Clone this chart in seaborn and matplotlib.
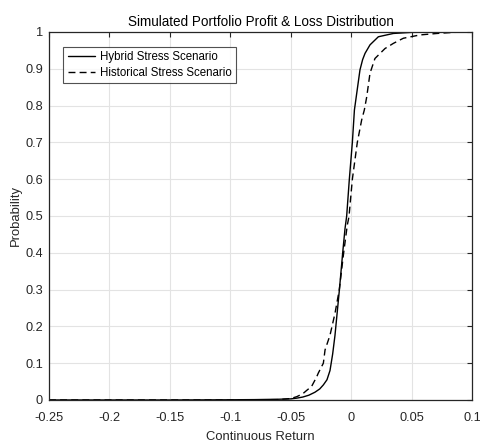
import numpy as np
import pandas as pd
import matplotlib
matplotlib.use("Agg")
import matplotlib.pyplot as plt
import seaborn as sns

hybrid_x = [-0.25, -0.15, -0.12, -0.10, -0.08, -0.06, -0.05, -0.045, -0.04, -0.035,
            -0.03, -0.026, -0.023, -0.02, -0.0175, -0.0153, -0.0134, -0.0098, -0.007,
            -0.0051, -0.0037, -0.0015, 0.001, 0.0027, 0.0046, 0.0073, 0.0095, 0.0115,
            0.0156, 0.0225, 0.0349, 0.05, 0.1]
hybrid_p = [0.0, 0.0, 0.0003, 0.0006, 0.001, 0.002, 0.003, 0.005, 0.008, 0.013,
            0.021, 0.03, 0.041, 0.055, 0.08, 0.125, 0.175, 0.297, 0.40,
            0.465, 0.50, 0.60, 0.70, 0.788, 0.833, 0.897, 0.925, 0.942,
            0.965, 0.987, 0.996, 0.999, 1.0]

hist_x = [-0.25, -0.10, -0.06, -0.05, -0.045, -0.04, -0.0368, -0.0327, -0.0285, -0.0272,
          -0.023, -0.0216, -0.0175, -0.0134, -0.0098, -0.0062, -0.0032, -0.0018, 0.001,
          0.0051, 0.0087, 0.0109, 0.0129, 0.0156, 0.0197, 0.028, 0.0349, 0.0432, 0.057,
          0.071, 0.085, 0.1]
hist_p = [0.0, 0.0, 0.001, 0.004, 0.009, 0.017, 0.026, 0.037, 0.063, 0.073,
          0.10, 0.136, 0.176, 0.235, 0.30, 0.40, 0.475, 0.498, 0.60,
          0.70, 0.761, 0.788, 0.824, 0.888, 0.928, 0.955, 0.969, 0.983, 0.992,
          0.996, 0.999, 1.0]

series_names = ["Hybrid Stress Scenario", "Historical Stress Scenario"]
x_ticks = [-0.25, -0.2, -0.15, -0.1, -0.05, 0, 0.05, 0.1]
x_tick_labels = ["-0.25", "-0.2", "-0.15", "-0.1", "-0.05", "0", "0.05", "0.1"]
y_ticks = [0, 0.1, 0.2, 0.3, 0.4, 0.5, 0.6, 0.7, 0.8, 0.9, 1]
y_tick_labels = ["0", "0.1", "0.2", "0.3", "0.4", "0.5", "0.6", "0.7", "0.8", "0.9", "1"]

df = pd.concat([
    pd.DataFrame({"x": hybrid_x, "p": hybrid_p, "scenario": series_names[0]}),
    pd.DataFrame({"x": hist_x, "p": hist_p, "scenario": series_names[1]}),
], ignore_index=True)

sns.set_style("white")
plt.rcParams["font.family"] = ["Liberation Sans", "DejaVu Sans"]

fig = plt.figure(figsize=(4.81, 4.43), dpi=100)
ax = fig.add_axes([0.1019, 0.0971, 0.9813 - 0.1019, 0.9278 - 0.0971])

sns.lineplot(data=df, x="x", y="p", hue="scenario", style="scenario",
             palette=["black", "black"], dashes=[(None, None), (5, 3)],
             sort=False, estimator=None, linewidth=1.0, ax=ax)

ax.set_xlim(-0.25, 0.1)
ax.set_ylim(0, 1)
ax.set_xticks(x_ticks)
ax.set_xticklabels(x_tick_labels)
ax.set_yticks(y_ticks)
ax.set_yticklabels(y_tick_labels)
ax.grid(True, color="#e3e3e3", linewidth=0.8)
ax.set_axisbelow(True)
for s in ax.spines.values():
    s.set_visible(True)
    s.set_color("#262626")
    s.set_linewidth(0.9)
ax.tick_params(direction="in", top=True, right=True, length=3.5, width=0.8,
               labelsize=9.2, colors="#262626", labelcolor="#262626")
ax.tick_params(axis="x", pad=9)
ax.tick_params(axis="y", pad=4.5)
ax.set_xlabel("Continuous Return", fontsize=9.4, color="#262626")
ax.set_ylabel("Probability", fontsize=9.4, color="#262626")
ax.xaxis.set_label_coords(0.5, -0.083)
ax.yaxis.set_label_coords(-0.064, 0.5)
ax.set_title("Simulated Portfolio Profit & Loss Distribution", fontsize=9.75,
             color="#000000", pad=4)

leg = ax.legend(loc="upper left", bbox_to_anchor=(0.033, 0.96), fontsize=8.3,
                frameon=True, fancybox=False, edgecolor="#262626",
                handlelength=2.4, handletextpad=0.4, borderpad=0.4,
                labelspacing=0.3, borderaxespad=0)
leg.get_frame().set_linewidth(0.8)
for t in leg.get_texts():
    t.set_color("#000000")

fig.savefig("out.png", dpi=100)
